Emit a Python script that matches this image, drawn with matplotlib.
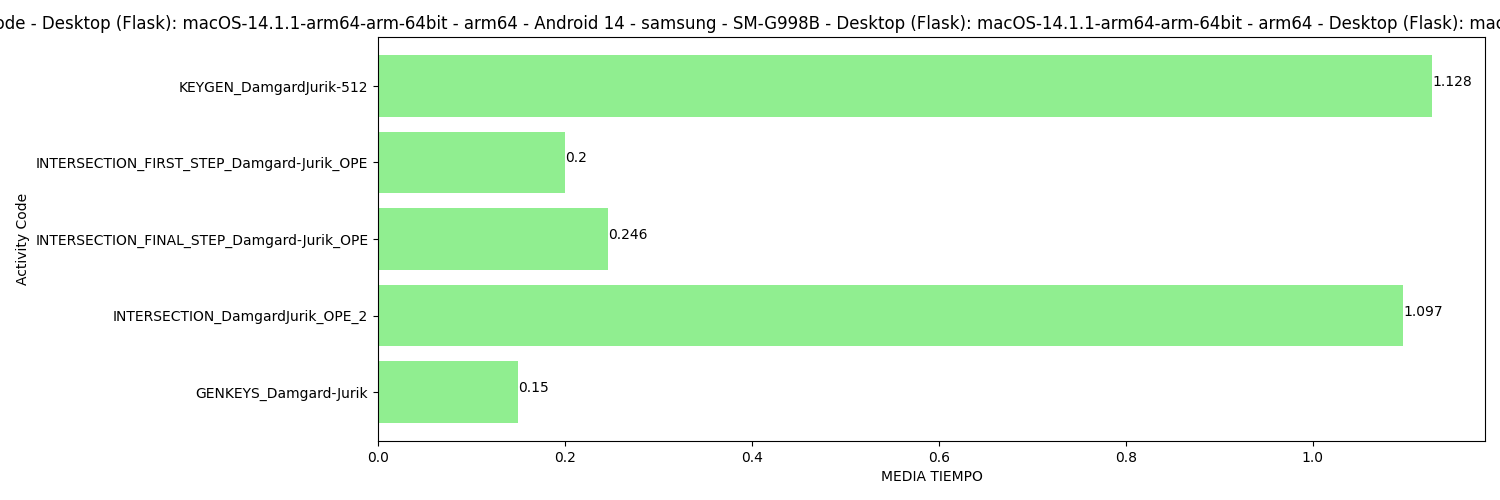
import matplotlib
matplotlib.use("Agg")
import matplotlib.pyplot as plt

# data (bottom to top)
actividades = ['GENKEYS_Damgard-Jurik', 'INTERSECTION_DamgardJurik_OPE_2',
               'INTERSECTION_FINAL_STEP_Damgard-Jurik_OPE',
               'INTERSECTION_FIRST_STEP_Damgard-Jurik_OPE', 'KEYGEN_DamgardJurik-512']
media_tiempo = [0.15, 1.097, 0.246, 0.2, 1.128]

titulo = ('Media de Tiempo por Activity Code - Desktop (Flask): macOS-14.1.1-arm64-arm-64bit - arm64'
          ' - Android 14 - samsung - SM-G998B - Desktop (Flask): macOS-14.1.1-arm64-arm-64bit - arm64'
          ' - Desktop (Flask): macOS-14.1.1-arm64-arm-64bit - arm64 - Desktop (Flask): macOS-14.1.1-arm6')

fig = plt.figure(figsize=(15, 5), dpi=100)
plt.barh(actividades, media_tiempo, color='lightgreen')
for i, v in enumerate(media_tiempo):
    plt.text(v, i, str(v))
plt.xlabel('MEDIA TIEMPO')
plt.ylabel('Activity Code')
plt.title(titulo)
plt.subplots_adjust(left=0.252, right=0.99, top=0.926, bottom=0.118)
plt.savefig('out.png')
